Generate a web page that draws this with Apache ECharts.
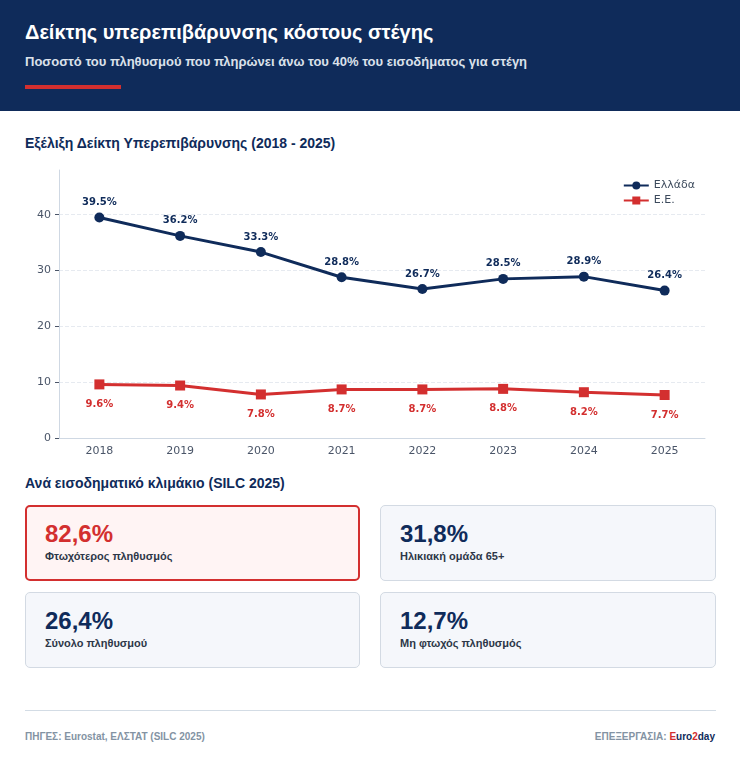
<!DOCTYPE html>
<html>
<head>
<meta charset="utf-8">
<script src="https://cdn.jsdelivr.net/npm/echarts@6/dist/echarts.min.js"></script>
<style>
  html,body{margin:0;padding:0;background:#fff;}
  body{width:740px;height:770px;position:relative;overflow:hidden;font-family:"Liberation Sans",Arial,sans-serif;}
  .abs{position:absolute;white-space:nowrap;}
  #header{position:absolute;left:0;top:0;width:740px;height:111px;background:#0f2b5a;}
  #title{left:25px;top:19px;font-size:20px;font-weight:bold;color:#fff;line-height:26px;}
  #subtitle{left:25px;top:53px;font-size:13px;font-weight:bold;color:#dbe1ea;line-height:18px;}
  #bar{left:25px;top:85px;width:96px;height:4px;background:#d32f2f;}
  .sec{left:25px;font-size:14px;font-weight:bold;color:#0f2b5a;line-height:18px;}
  #chart{position:absolute;left:0;top:160px;width:740px;height:300px;}
  .card{position:absolute;box-sizing:border-box;width:336px;height:76px;border:1px solid #d3dae3;border-radius:5px;background:#f5f7fb;}
  .card.hl{border:2px solid #d32f2f;background:#fff4f4;}
  .card .v{position:absolute;left:19px;top:14px;font-size:24px;font-weight:bold;color:#0f2b5a;line-height:28px;}
  .card.hl .v{left:18px;top:13px;color:#d32f2f;}
  .card .l{position:absolute;left:19px;top:43px;font-size:11px;font-weight:bold;color:#2d3748;line-height:14px;}
  .card.hl .l{left:18px;top:42px;}
  #hr{left:25px;top:710px;width:691px;height:1px;background:#d3dce5;}
  .foot{top:730px;font-size:10px;font-weight:bold;color:#8393a3;line-height:14px;}
</style>
</head>
<body>
<div id="header"></div>
<div class="abs" id="title">Δείκτης υπερεπιβάρυνσης κόστους στέγης</div>
<div class="abs" id="subtitle">Ποσοστό του πληθυσμού που πληρώνει άνω του 40% του εισοδήματος για στέγη</div>
<div class="abs" id="bar"></div>

<div class="abs sec" style="top:134px;">Εξέλιξη Δείκτη Υπερεπιβάρυνσης (2018 - 2025)</div>
<div id="chart"></div>

<div class="abs sec" style="top:474px;">Ανά εισοδηματικό κλιμάκιο (SILC 2025)</div>
<div id="cards"></div>

<div class="abs" id="hr"></div>
<div class="abs foot" style="left:25px;">ΠΗΓΕΣ: Eurostat, ΕΛΣΤΑΤ (SILC 2025)</div>
<div class="abs foot" style="right:25px;">ΕΠΕΞΕΡΓΑΣΙΑ: <span style="color:#d32f2f">E</span><span style="color:#0f2b5a">uro</span><span style="color:#d32f2f">2</span><span style="color:#0f2b5a">day</span></div>

<script>
const years = ['2018','2019','2020','2021','2022','2023','2024','2025'];
const greece = [39.5, 36.2, 33.3, 28.8, 26.7, 28.5, 28.9, 26.4];
const eu = [9.6, 9.4, 7.8, 8.7, 8.7, 8.8, 8.2, 7.7];
const seriesNames = ['Ελλάδα', 'Ε.Ε.'];
const cardValues = ['82,6%', '31,8%', '26,4%', '12,7%'];
const cardLabels = ['Φτωχότερος πληθυσμός', 'Ηλικιακή ομάδα 65+', 'Σύνολο πληθυσμού', 'Μη φτωχός πληθυσμός'];

// cards
const cardPos = [[25,505],[380,505],[25,592],[380,592]];
const cardsEl = document.getElementById('cards');
cardValues.forEach((v,i)=>{
  const d = document.createElement('div');
  d.className = 'card' + (i===0 ? ' hl' : '');
  d.style.left = cardPos[i][0] + 'px';
  d.style.top = cardPos[i][1] + 'px';
  d.style.width = (i%2===0 ? 335 : 336) + 'px';
  d.innerHTML = '<div class="v">'+v+'</div><div class="l">'+cardLabels[i]+'</div>';
  cardsEl.appendChild(d);
});

const NAVY = '#0f2b5a', RED = '#d32f2f';
const chart = echarts.init(document.getElementById('chart'), null, {renderer:'canvas'});
chart.setOption({
  animation:false,
  textStyle:{fontFamily:'DejaVu Sans'},
  grid:{left:59, right:35, top:10, bottom:22},
  legend:{
    orient:'vertical', right:40, top:15, itemWidth:25, itemHeight:10, itemGap:4,
    textStyle:{fontSize:11, color:'#3c4a5c'},
    data:seriesNames
  },
  xAxis:{
    type:'category', data:years, boundaryGap:true,
    axisLine:{lineStyle:{color:'#cfd8e3'}},
    axisTick:{alignWithLabel:true, lineStyle:{color:'#4a5568'}},
    axisLabel:{fontSize:11, color:'#4a5568', margin:8}
  },
  yAxis:{
    type:'value', min:0, max:48, interval:10,
    axisLine:{show:true, lineStyle:{color:'#cfd8e3'}},
    axisTick:{show:true, length:4, lineStyle:{color:'#4a5568'}},
    axisLabel:{fontSize:11, color:'#4a5568', showMaxLabel:false, margin:8},
    splitLine:{show:true, showMaxLine:false, lineStyle:{color:'#e6eaf0', type:'dashed'}}
  },
  series:[
    {
      name:seriesNames[0], type:'line', data:greece,
      symbol:'circle', symbolSize:10,
      lineStyle:{width:3, color:NAVY}, itemStyle:{color:NAVY},
      label:{show:true, position:'top', distance:5, fontSize:10, fontWeight:'bold', color:NAVY, formatter:p=>p.value.toFixed(1)+'%'}
    },
    {
      name:seriesNames[1], type:'line', data:eu,
      symbol:'rect', symbolSize:10,
      lineStyle:{width:3, color:RED}, itemStyle:{color:RED},
      label:{show:true, position:'bottom', distance:10, fontSize:10, fontWeight:'bold', color:RED, formatter:p=>p.value.toFixed(1)+'%'}
    }
  ]
});
</script>
</body>
</html>
